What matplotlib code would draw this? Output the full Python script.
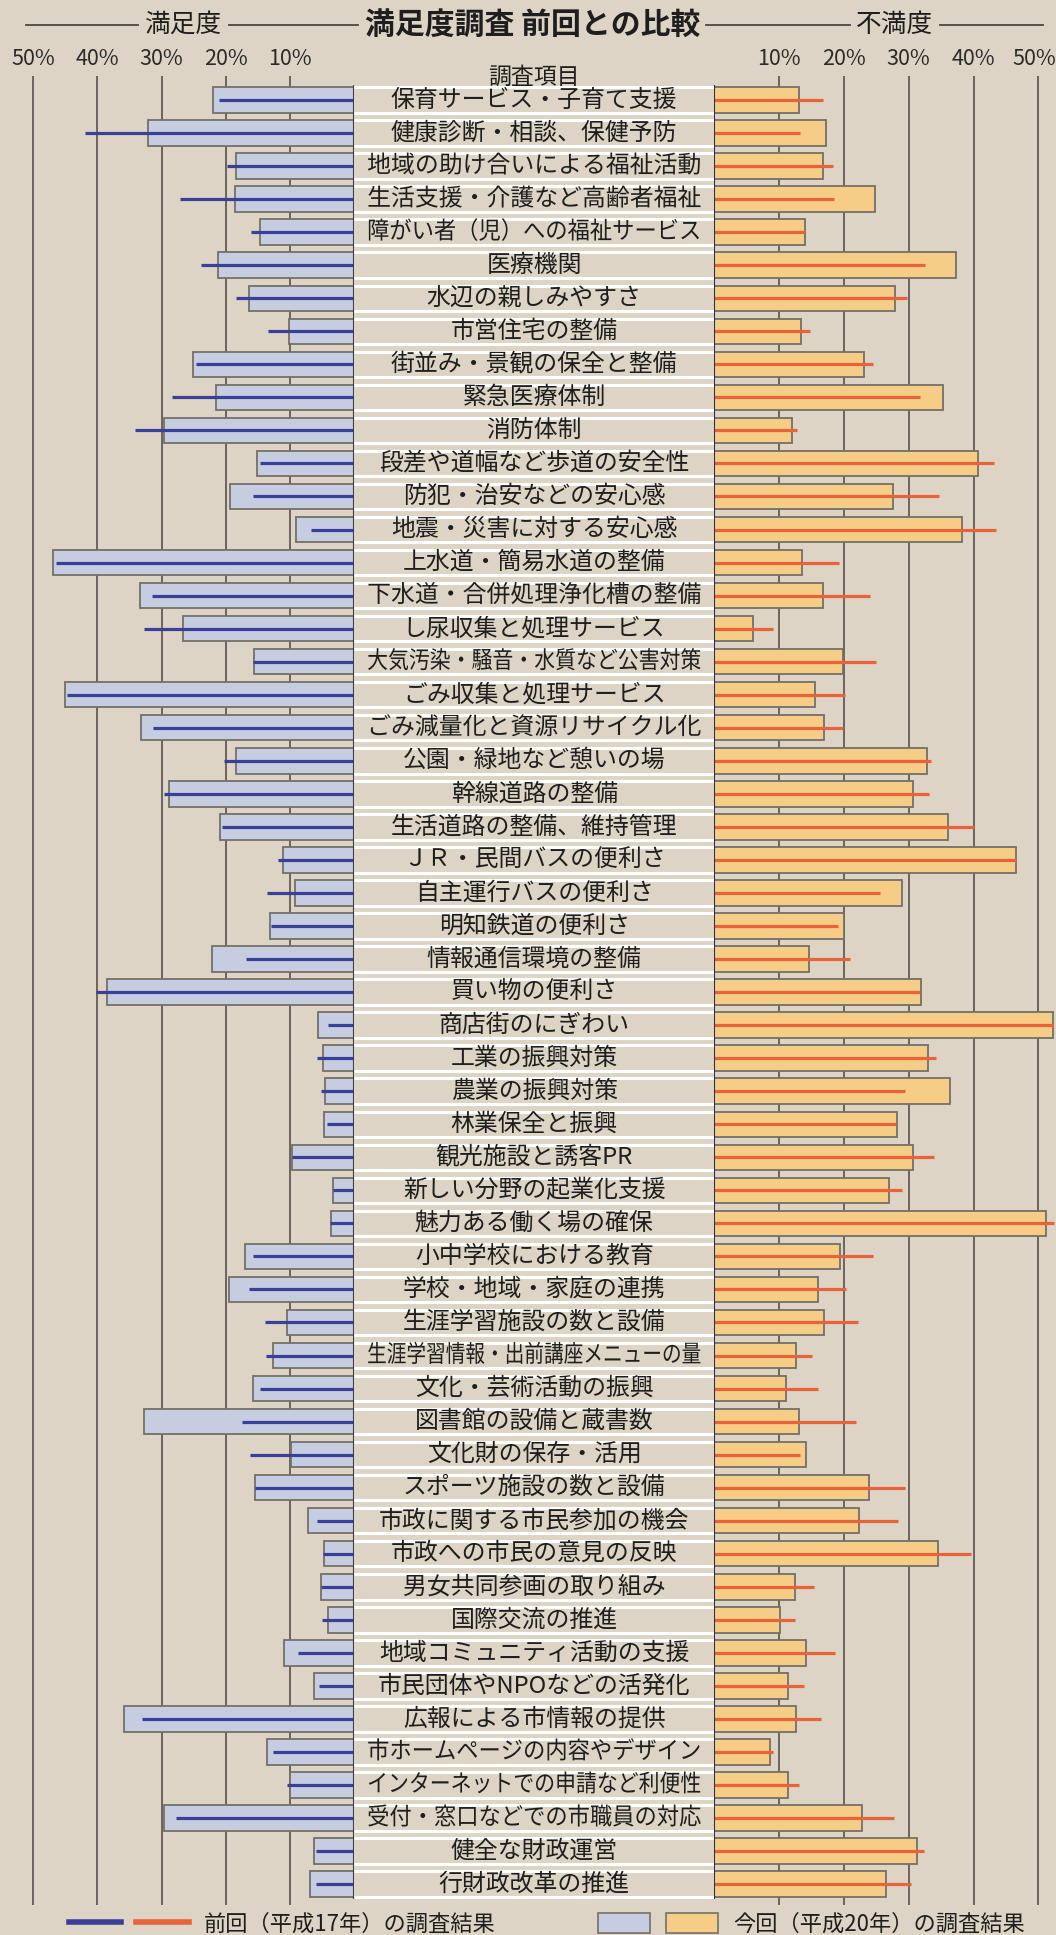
import matplotlib
matplotlib.use('Agg')
import matplotlib.pyplot as plt
from matplotlib.lines import Line2D
from matplotlib.patches import Patch
from matplotlib.legend_handler import HandlerTuple
from matplotlib.patheffects import AbstractPathEffect
from matplotlib.transforms import Affine2D, ScaledTranslation

plt.rcParams['font.family'] = ['Noto Sans CJK JP', 'DejaVu Sans']

# survey items (top to bottom)
items = [
    '保育サービス・子育て支援', '健康診断・相談、保健予防', '地域の助け合いによる福祉活動',
    '生活支援・介護など高齢者福祉', '障がい者（児）への福祉サービス', '医療機関',
    '水辺の親しみやすさ', '市営住宅の整備', '街並み・景観の保全と整備', '緊急医療体制',
    '消防体制', '段差や道幅など歩道の安全性', '防犯・治安などの安心感',
    '地震・災害に対する安心感', '上水道・簡易水道の整備', '下水道・合併処理浄化槽の整備',
    'し尿収集と処理サービス', '大気汚染・騒音・水質など公害対策', 'ごみ収集と処理サービス',
    'ごみ減量化と資源リサイクル化', '公園・緑地など憩いの場', '幹線道路の整備',
    '生活道路の整備、維持管理', 'ＪＲ・民間バスの便利さ', '自主運行バスの便利さ',
    '明知鉄道の便利さ', '情報通信環境の整備', '買い物の便利さ', '商店街のにぎわい',
    '工業の振興対策', '農業の振興対策', '林業保全と振興', '観光施設と誘客PR',
    '新しい分野の起業化支援', '魅力ある働く場の確保', '小中学校における教育',
    '学校・地域・家庭の連携', '生涯学習施設の数と設備', '生涯学習情報・出前講座メニューの量',
    '文化・芸術活動の振興', '図書館の設備と蔵書数', '文化財の保存・活用',
    'スポーツ施設の数と設備', '市政に関する市民参加の機会', '市政への市民の意見の反映',
    '男女共同参画の取り組み', '国際交流の推進', '地域コミュニティ活動の支援',
    '市民団体やNPOなどの活発化', '広報による市情報の提供', '市ホームページの内容やデザイン',
    'インターネットでの申請など利便性', '受付・窓口などでの市職員の対応', '健全な財政運営',
    '行財政改革の推進',
]

# satisfaction (%), this survey H20 (bars) and previous H17 (lines)
sat_h20 = [22.0, 32.1, 18.4, 18.6, 14.7, 21.2, 16.3, 10.1, 25.1, 21.5,
           29.7, 15.1, 19.4, 9.0, 46.9, 33.3, 26.6, 15.6, 45.1, 33.2,
           18.4, 28.9, 20.9, 11.1, 9.2, 13.1, 22.1, 38.5, 5.6, 4.8,
           4.5, 4.7, 9.7, 3.3, 3.6, 17.0, 19.5, 10.5, 12.6, 15.7,
           32.7, 9.8, 15.4, 7.1, 4.7, 5.1, 4.0, 10.9, 6.2, 35.9,
           13.5, 10.0, 29.6, 6.3, 6.9]
sat_h17 = [21.0, 41.9, 19.8, 27.2, 16.1, 23.8, 18.4, 13.4, 24.7, 28.4,
           34.1, 14.6, 15.7, 6.7, 46.4, 31.5, 32.7, 15.7, 44.8, 31.4,
           20.2, 29.7, 20.6, 11.9, 13.6, 12.9, 16.8, 40.2, 4.0, 5.8,
           5.2, 4.2, 9.7, 3.2, 3.8, 15.7, 16.4, 13.9, 13.7, 14.6,
           17.5, 16.2, 15.4, 5.7, 4.9, 5.2, 5.0, 8.7, 5.4, 33.0,
           12.7, 10.5, 27.7, 6.0, 6.0]

# dissatisfaction (%), this survey H20 (bars) and previous H17 (lines)
dis_h20 = [13.0, 17.3, 16.7, 24.8, 14.0, 37.3, 27.9, 13.4, 23.1, 35.3,
           12.0, 40.7, 27.6, 38.3, 13.6, 16.7, 6.0, 19.9, 15.5, 17.0,
           32.9, 30.6, 36.0, 46.6, 29.0, 20.0, 14.6, 31.9, 52.2, 33.0,
           36.3, 28.2, 30.7, 26.9, 51.2, 19.4, 16.0, 17.0, 12.6, 11.0,
           13.1, 14.2, 23.8, 22.3, 34.5, 12.5, 10.1, 14.2, 11.4, 12.6,
           8.6, 11.3, 22.8, 31.3, 26.5]
dis_h17 = [16.8, 13.2, 18.3, 18.5, 14.0, 32.5, 29.7, 14.8, 24.5, 31.8,
           12.8, 43.2, 34.7, 43.4, 19.2, 24.1, 9.0, 24.9, 20.1, 19.8,
           33.5, 33.1, 40.1, 46.5, 25.6, 19.1, 20.9, 31.8, 52.3, 34.2,
           29.5, 28.1, 33.9, 28.9, 52.4, 24.5, 20.3, 22.1, 15.1, 16.0,
           21.9, 13.3, 29.5, 28.3, 39.6, 15.4, 12.4, 18.7, 13.8, 16.4,
           9.1, 13.0, 27.7, 32.4, 30.4]

ticks = [10, 20, 30, 40, 50]

BG = '#ddd4c5'
BLUE_BAR = '#c6cde1'
ORANGE_BAR = '#f6cd86'
BLUE_LINE = '#3a3f98'
ORANGE_LINE = '#e8623a'
EDGE = '#737069'
GRID = '#4a4742'
TXT = '#1e1e1e'


class Condense(AbstractPathEffect):
    # squeeze text horizontally around its centre (long item names)
    def __init__(self, sx):
        super().__init__()
        self.sx = sx

    def draw_path(self, renderer, gc, tpath, affine, rgbFace=None):
        xs = tpath.vertices[:, 0]
        cx = (xs.min() + xs.max()) / 2
        squeeze = Affine2D().translate(-cx, 0).scale(self.sx, 1).translate(cx, 0)
        renderer.draw_path(gc, tpath, squeeze + affine, rgbFace)


W, H = 1056, 1935
fig = plt.figure(figsize=(W / 100, H / 100), dpi=100, facecolor=BG)

rows = list(range(len(items)))
pitch = 33.04
y_top_px, y_bot_px = 76, 1905
ylim = ((y_bot_px - 100) / pitch, (y_top_px - 100) / pitch)
ax_b = 1 - y_bot_px / H
ax_h = (y_bot_px - y_top_px) / H

left_zero, left_50 = 354, 33.3
right_zero, right_50 = 714.3, 1038.3
lscale = (left_zero - left_50) / 50
rscale = (right_50 - right_zero) / 50

axl = fig.add_axes([0, ax_b, left_zero / W, ax_h])
axc = fig.add_axes([left_zero / W, ax_b, (right_zero - left_zero) / W, ax_h])
axr = fig.add_axes([right_zero / W, ax_b, (W - right_zero) / W, ax_h])

bar_h = 0.77

# left: satisfaction
axl.barh(rows, sat_h20, height=bar_h, color=BLUE_BAR, edgecolor=EDGE,
         linewidth=1.3, zorder=2)
axl.hlines(rows, 0, sat_h17, color=BLUE_LINE, linewidth=2.3, zorder=3)
axl.set_xlim(left_zero / lscale, 0)
axl.vlines(0, -0.45, len(items) - 0.55, color='#3c3c44', linewidth=1.5, zorder=4)

# right: dissatisfaction
axr.barh(rows, dis_h20, height=bar_h, color=ORANGE_BAR, edgecolor=EDGE,
         linewidth=1.3, zorder=2)
axr.hlines(rows, 0, dis_h17, color=ORANGE_LINE, linewidth=2.3, zorder=3)
axr.set_xlim(0, (W - right_zero) / rscale)
axr.vlines(0, -0.45, len(items) - 0.55, color='#2c3050', linewidth=1.5, zorder=4)

for ax in (axl, axr):
    ax.set_facecolor('none')
    ax.set_ylim(*ylim)
    ax.set_yticks([])
    ax.xaxis.tick_top()
    ax.set_xticks(ticks)
    ax.set_xticklabels([f'{t}%' for t in ticks])
    ax.tick_params(axis='x', length=0, pad=4, labelsize=15.5, colors='#2a2a2a')
    ax.grid(axis='x', color=GRID, linewidth=1.1)
    ax.set_axisbelow(True)
    for s in ax.spines.values():
        s.set_visible(False)

# keep the outermost "50%" inside the picture
last = axr.get_xticklabels()[-1]
last.set_transform(last.get_transform() + ScaledTranslation(-3 / 72, 0, fig.dpi_scale_trans))

# centre column with item names
axc.set_xlim(0, 1)
axc.set_ylim(*ylim)
axc.axis('off')
tops = [r - 0.385 for r in rows]
bots = [r + 0.385 for r in rows]
axc.hlines(tops + bots, 0, 1, color='white', linewidth=2.2)

renderer = fig.canvas.get_renderer()
maxw = 334
for r, name in zip(rows, items):
    t = axc.text(0.5, r, name, ha='center', va='center', fontsize=17.2, color=TXT)
    w = t.get_window_extent(renderer).width
    if w > maxw:
        t.set_path_effects([Condense(maxw / w)])

axc.text(0.5, (77 - 100) / pitch, '調査項目', ha='center', va='center',
         fontsize=16.5, color=TXT)

# header
ty = 1 - 25 / H
fig.text(533 / W, ty, '満足度調査 前回との比較', ha='center', va='center',
         fontsize=21.5, fontweight='bold', color=TXT)
fig.text(183 / W, ty, '満足度', ha='center', va='center', fontsize=18.5, color=TXT)
fig.text(895 / W, ty, '不満度', ha='center', va='center', fontsize=18.5, color=TXT)
for x0, x1 in [(26, 138), (229, 358), (706, 850), (940, 1043)]:
    fig.add_artist(Line2D([x0 / W, x1 / W], [ty, ty], transform=fig.transFigure,
                          color='#4a4742', linewidth=1.3))

# legend
h_prev = (Line2D([], [], color=BLUE_LINE, linewidth=4),
          Line2D([], [], color=ORANGE_LINE, linewidth=4))
h_now = (Patch(facecolor=BLUE_BAR, edgecolor=EDGE, linewidth=1.2),
         Patch(facecolor=ORANGE_BAR, edgecolor=EDGE, linewidth=1.2))
fig.legend([h_prev, h_now], ['前回（平成17年）の調査結果', '今回（平成20年）の調査結果'],
           handler_map={tuple: HandlerTuple(ndivide=None, pad=0.7)},
           loc='center', bbox_to_anchor=(547 / W, 1 - 1924 / H), ncol=2,
           frameon=False, fontsize=16, handlelength=5.4, handleheight=1.0,
           handletextpad=0.7, columnspacing=4.6, borderpad=0, borderaxespad=0,
           labelcolor=TXT)

fig.savefig('out.png', dpi=100, facecolor=BG)
